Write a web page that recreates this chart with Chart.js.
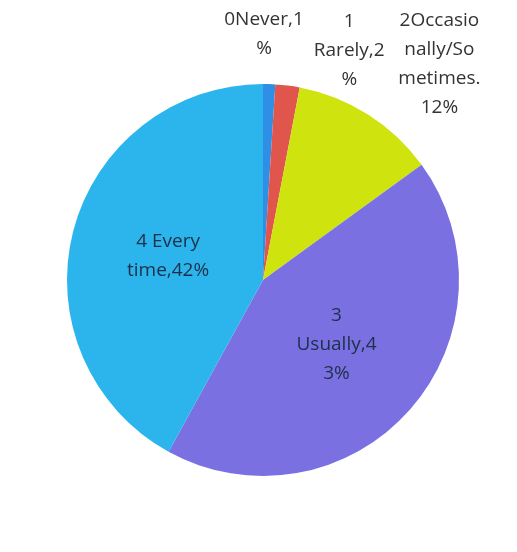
<!DOCTYPE html>
<html>
<head>
<meta charset="utf-8">
<script src="https://cdn.jsdelivr.net/npm/chart.js@4/dist/chart.umd.min.js"></script>
<style>
  html, body { margin: 0; padding: 0; background: #fff; }
  #wrap { width: 517px; height: 552px; }
</style>
</head>
<body>
<div id="wrap"><canvas id="pieChart" width="517" height="552"></canvas></div>
<script>
// categories and values
const categories = ['0Never', '1 Rarely', '2Occasionally/Sometimes', '3 Usually', '4 Every time'];
const percents = [1, 2, 12, 43, 42];
// data label text, wrapped like the original
const labelLines = [
    ['0Never,1', '%'],
    ['1', 'Rarely,2', '%'],
    ['2Occasio', 'nally/So', 'metimes.', '12%'],
    ['3', 'Usually,4', '3%'],
    ['4 Every', 'time,42%']
];

const colors = ['#2f8fe6', '#e0564c', '#cfe30e', '#7a70e2', '#2bb5ec'];
// outside label offsets (in units of the radius); null = inside the slice
const labelOffset = [[0.005, -1.255], [0.44, -1.17], [0.90, -1.10], null, null];

const pieLabels = {
    id: 'pieLabels',
    afterDatasetsDraw(chart) {
        const c = chart.ctx;
        const meta = chart.getDatasetMeta(0);
        c.save();
        c.font = '19px "Open Sans", sans-serif';
        c.textAlign = 'center';
        c.textBaseline = 'middle';
        const lh = 29;
        meta.data.forEach((arc, i) => {
            let x, y;
            if (labelOffset[i]) {
                const r = arc.outerRadius;
                x = arc.x + labelOffset[i][0] * r;
                y = arc.y + labelOffset[i][1] * r;
                c.fillStyle = '#333333';
            } else {
                const p = arc.tooltipPosition();
                x = p.x; y = p.y;
                c.fillStyle = '#1c3048';
            }
            const lines = labelLines[i];
            const top = y - (lines.length - 1) * lh / 2;
            lines.forEach((t, k) => c.fillText(t, x, top + k * lh));
        });
        c.restore();
    }
};

new Chart(document.getElementById('pieChart'), {
    type: 'pie',
    data: {
        labels: categories,
        datasets: [{
            data: percents,
            backgroundColor: colors,
            borderWidth: 0
        }]
    },
    options: {
        responsive: false,
        animation: false,
        layout: { padding: { top: 84, bottom: 76, left: 67, right: 58 } },
        plugins: {
            legend: { display: false },
            tooltip: { enabled: false }
        }
    },
    plugins: [pieLabels]
});
</script>
</body>
</html>
